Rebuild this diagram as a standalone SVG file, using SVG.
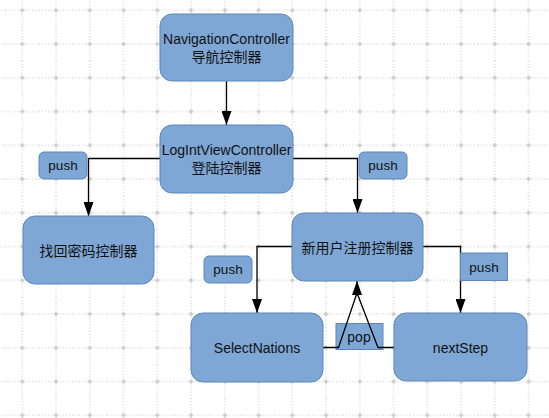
<svg xmlns="http://www.w3.org/2000/svg" width="549" height="418" viewBox="0 0 549 418">
<style>
.node rect{fill:#7ea7d6;stroke:#5c87bb;stroke-width:1}
.lbl rect{fill:#7ea7d6;stroke:#5c87bb;stroke-width:1}
text{font-family:"Liberation Sans","Noto Sans CJK SC",sans-serif;font-size:14px;fill:#111;text-anchor:middle}
.small{font-size:13.5px}
.conn path{fill:none;stroke:#000;stroke-width:1.3}
</style>
<defs>
<pattern id="grid" x="5.425" y="-6.575" width="33.75" height="33.75" patternUnits="userSpaceOnUse">
<line x1="16.875" y1="0" x2="16.875" y2="33.75" stroke="#c6c6c6" stroke-width="1" stroke-dasharray="1 2"/>
<line x1="0" y1="16.875" x2="33.75" y2="16.875" stroke="#c6c6c6" stroke-width="1" stroke-dasharray="1 2"/>
<path d="M14.4,16.875H19.4M16.875,14.4V19.4" stroke="#bdbdbd" stroke-width="1"/>
</pattern>
<marker id="arr" markerUnits="userSpaceOnUse" markerWidth="14" markerHeight="10" refX="14" refY="5" orient="auto">
<path d="M0,0L14,5L0,10z" fill="#000"/>
</marker>
</defs>
<rect x="0" y="0" width="549" height="418" fill="#fff"/>
<rect x="0" y="0" width="549" height="418" fill="url(#grid)"/>

<g class="conn">
<path d="M226.5,81V125" marker-end="url(#arr)"/>
<path d="M160,158.5H88.5V216" marker-end="url(#arr)"/>
<path d="M293,158.5H357.5V213" marker-end="url(#arr)"/>
<path d="M292,246.5H257V313" marker-end="url(#arr)"/>
<path d="M423,246.5H460.5V313" marker-end="url(#arr)"/>
</g>

<g id="lbl-push1" class="lbl"><rect x="39" y="152" width="48" height="27" rx="5"/><text class="small" x="63" y="170">push</text></g>
<g id="lbl-push2" class="lbl"><rect x="359" y="152" width="48" height="27" rx="5"/><text class="small" x="383" y="170">push</text></g>
<g id="lbl-push3" class="lbl"><rect x="204" y="256" width="48" height="27" rx="5"/><text class="small" x="228" y="274">push</text></g>
<g id="lbl-push4" class="lbl"><rect x="460.5" y="253" width="47" height="27.5"/><text class="small" x="484" y="272">push</text></g>
<g id="lbl-pop" class="lbl"><rect x="336" y="323.5" width="47" height="26"/><text x="359" y="341.5">pop</text></g>

<g class="conn">
<path d="M323,347.5H338.5L357,293L378,347.5H394"/>
<path d="M357,296V281" marker-end="url(#arr)"/>
</g>

<g id="nav" class="node"><rect x="160" y="14" width="133" height="67" rx="12"/><text x="226.5" y="43.5">NavigationController</text><text x="226.5" y="61.5">导航控制器</text></g>
<g id="login" class="node"><rect x="160" y="125" width="133" height="68" rx="12"/><text x="226.5" y="155">LogIntViewController</text><text x="226.5" y="173">登陆控制器</text></g>
<g id="findpwd" class="node"><rect x="23" y="216" width="131" height="68" rx="12"/><text x="88.5" y="255.5">找回密码控制器</text></g>
<g id="register" class="node"><rect x="292" y="213" width="131" height="68" rx="12"/><text x="357.5" y="252.5">新用户注册控制器</text></g>
<g id="select" class="node"><rect x="191" y="313" width="132" height="69" rx="12"/><text x="257" y="352.5">SelectNations</text></g>
<g id="next" class="node"><rect x="394" y="313" width="133" height="68" rx="12"/><text x="460.5" y="352.5">nextStep</text></g>
</svg>
